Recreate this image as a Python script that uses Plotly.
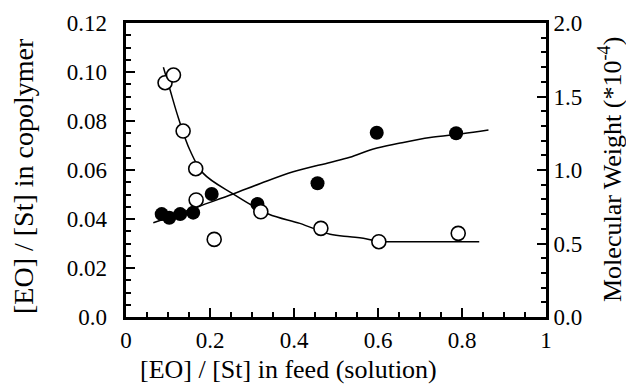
import plotly.graph_objects as go

# Filled circles: [EO]/[St] in copolymer (left axis)
feed_cop = [0.085, 0.103, 0.129, 0.160, 0.204, 0.313, 0.456, 0.597, 0.786]
cop_ratio = [0.042, 0.0405, 0.042, 0.0426, 0.0502, 0.0461, 0.0546, 0.0752, 0.0750]

# Open circles: Molecular weight (*10^-4) (right axis)
feed_mw = [0.093, 0.113, 0.136, 0.166, 0.167, 0.210, 0.321, 0.464, 0.602, 0.791]
mw = [1.594, 1.646, 1.265, 1.009, 0.796, 0.528, 0.716, 0.603, 0.512, 0.569]

# Hand-drawn fit curves
fit_cop_x = [0.065, 0.10, 0.176, 0.255, 0.32, 0.398, 0.486, 0.533, 0.589, 0.65, 0.724, 0.80, 0.863]
fit_cop_y = [0.0385, 0.0405, 0.0453, 0.0502, 0.0545, 0.0593, 0.0631, 0.0652, 0.0686, 0.0709, 0.0733, 0.0748, 0.0763]

fit_mw_x = [0.089, 0.105, 0.125, 0.152, 0.184, 0.255, 0.339, 0.414, 0.486, 0.533, 0.565, 0.602, 0.70, 0.841]
fit_mw_y = [1.699, 1.544, 1.352, 1.136, 0.977, 0.837, 0.701, 0.637, 0.563, 0.546, 0.535, 0.515, 0.512, 0.512]

x_ticks = [0, 0.2, 0.4, 0.6, 0.8, 1]
x_ticktext = ["0", "0.2", "0.4", "0.6", "0.8", "1"]
y_ticks = [0, 0.02, 0.04, 0.06, 0.08, 0.10, 0.12]
y_ticktext = ["0.0", "0.02", "0.04", "0.06", "0.08", "0.10", "0.12"]
y2_ticks = [0, 0.5, 1.0, 1.5, 2.0]
y2_ticktext = ["0.0", "0.5", "1.0", "1.5", "2.0"]

FONT = "Liberation Serif, Times New Roman, serif"
TS = 23
PAD = "\u00a0\u00a0"

fig = go.Figure()
fig.add_trace(go.Scatter(x=fit_cop_x, y=fit_cop_y, mode="lines", line=dict(color="black", width=1.5, shape="spline"),
                         showlegend=False, hoverinfo="skip"))
fig.add_trace(go.Scatter(x=fit_mw_x, y=fit_mw_y, mode="lines", yaxis="y2",
                         line=dict(color="black", width=1.5, shape="spline"), showlegend=False, hoverinfo="skip"))
fig.add_trace(go.Scatter(x=feed_cop, y=cop_ratio, mode="markers",
                         marker=dict(symbol="circle", size=14, color="black"), showlegend=False))
fig.add_trace(go.Scatter(x=feed_mw, y=mw, mode="markers", yaxis="y2",
                         marker=dict(symbol="circle", size=14, color="white", line=dict(color="black", width=1.6)),
                         showlegend=False))

fig.update_layout(
    width=626, height=384,
    margin=dict(l=126, r=80, t=23, b=67),
    paper_bgcolor="white", plot_bgcolor="white",
    font=dict(family=FONT, size=TS, color="black"),
    xaxis=dict(range=[0, 1], tickmode="array", tickvals=x_ticks, ticktext=x_ticktext, ticks="inside",
               ticklen=9, tickwidth=2, tickcolor="black", showline=True, linewidth=3, linecolor="black",
               mirror=True, showgrid=False, zeroline=False,
               minor=dict(ticks="inside", dtick=0.05, ticklen=5, tickwidth=1.5, tickcolor="black", showgrid=False),
               tickfont=dict(family=FONT, size=TS)),
    yaxis=dict(range=[0, 0.12], tickmode="array", tickvals=y_ticks, ticktext=[t + PAD for t in y_ticktext],
               ticks="inside", ticklen=9, tickwidth=2, tickcolor="black", showline=True, linewidth=3,
               linecolor="black", showgrid=False, zeroline=False,
               minor=dict(ticks="inside", dtick=0.005, ticklen=5, tickwidth=1.5, tickcolor="black", showgrid=False),
               tickfont=dict(family=FONT, size=TS)),
    yaxis2=dict(range=[0, 2.0], overlaying="y", side="right", tickmode="array", tickvals=y2_ticks,
                ticktext=y2_ticktext, ticks="inside", ticklen=9, tickwidth=2, tickcolor="black",
                showline=True, linewidth=3, linecolor="black", showgrid=False, zeroline=False,
                minor=dict(ticks="inside", dtick=0.1, ticklen=5, tickwidth=1.5, tickcolor="black", showgrid=False),
                tickfont=dict(family=FONT, size=TS)),
    annotations=[
        dict(text="[EO] / [St] in feed (solution)", xref="x", yref="paper", x=0.386, y=0, yshift=-52,
             xanchor="center", yanchor="middle", showarrow=False, font=dict(family=FONT, size=26)),
        dict(text="[EO] / [St] in copolymer", xref="paper", yref="paper", x=0, y=0.5, xshift=-103, yshift=-6,
             xanchor="center", yanchor="middle", textangle=-90, showarrow=False, font=dict(family=FONT, size=28)),
        dict(text="Molecular Weight (*10<sup>-4</sup>)", xref="paper", yref="paper", x=1, y=0.5, xshift=64,
             xanchor="center", yanchor="middle", textangle=-90, showarrow=False, font=dict(family=FONT, size=26)),
    ],
)

fig.write_html("out.html")
